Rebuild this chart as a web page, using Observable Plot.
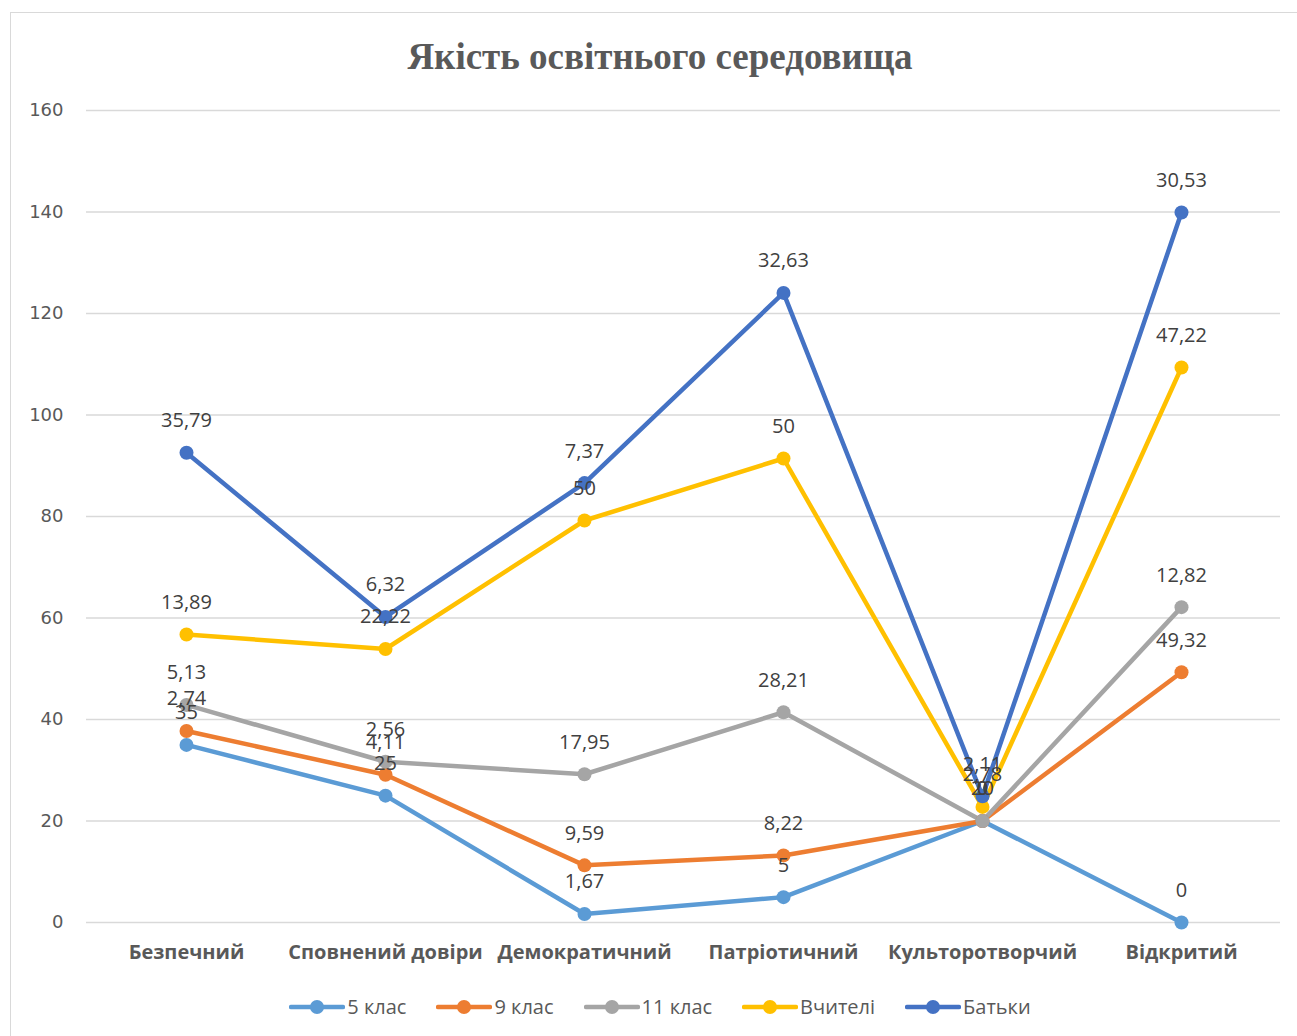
<!DOCTYPE html>
<html>
<head>
<meta charset="utf-8">
<script src="https://cdn.jsdelivr.net/npm/d3@7"></script>
<script src="https://cdn.jsdelivr.net/npm/@observablehq/plot@0.6"></script>
<style>
  html, body { margin: 0; padding: 0; background: #fff; }
  #frame { position: absolute; left: 10px; top: 12px; width: 1290px; height: 1030px; border: 1px solid #d9d9d9; box-sizing: border-box; background: #fff; }
  #title { position: absolute; left: 10px; width: 1300px; top: 35px; text-align: center; font-family: "Liberation Serif", "DejaVu Serif", serif; font-weight: bold; font-size: 37px; color: #595959; }
  #chart { position: absolute; left: 0; top: 90px; }
  #legend { position: absolute; left: 10px; width: 1300px; top: 993px; display: flex; justify-content: center; gap: 30px; font-family: "Open Sans", sans-serif; font-size: 20px; color: #595959; }
  .item { display: flex; align-items: center; }
  .item svg { margin-right: 2px; }
</style>
</head>
<body>
<div id="frame"></div>
<div id="title">Якість освітнього середовища</div>
<div id="chart"></div>
<div id="legend"></div>
<script>
const categories = ["Безпечний", "Сповнений довіри", "Демократичний", "Патріотичний", "Культоротворчий", "Відкритий"];
const seriesNames = ["5 клас", "9 клас", "11 клас", "Вчителі", "Батьки"];
const colors = ["#5B9BD5", "#ED7D31", "#A5A5A5", "#FFC000", "#4472C4"];
const klas5   = [35, 25, 1.67, 5, 20, 0];
const klas9   = [2.74, 4.11, 9.59, 8.22, 0, 49.32];
const klas11  = [5.13, 2.56, 17.95, 28.21, 0, 12.82];
const teachers = [13.89, 22.22, 50, 50, 2.78, 47.22];
const parents  = [35.79, 6.32, 7.37, 32.63, 2.11, 30.53];
const yTicks = [0, 20, 40, 60, 80, 100, 120, 140, 160];

const seriesValues = [klas5, klas9, klas11, teachers, parents];
const data = [];
seriesNames.forEach((s, i) => {
  categories.forEach((c, j) => data.push({series: s, category: c, value: seriesValues[i][j]}));
});
const fmt = v => String(v).replace(".", ",");

const chart = Plot.plot({
  width: 1297,
  height: 880,
  marginTop: 20,
  marginBottom: 48,
  marginLeft: 86,
  marginRight: 17,
  style: { background: "transparent", overflow: "visible" },
  x: { type: "point", domain: categories, padding: 0.5, label: null },
  y: { domain: [0, 160], label: null },
  color: { domain: seriesNames, range: colors },
  marks: [
    Plot.gridY(yTicks, { stroke: "#d9d9d9", strokeOpacity: 1, strokeWidth: 1.3 }),
    Plot.axisY(yTicks, { tickSize: 0, tickPadding: 23, fontSize: 18, fill: "#595959", fontFamily: "DejaVu Sans", label: null }),
    Plot.axisX({ tickSize: 0, tickPadding: 22, fontSize: 20, fontWeight: "bold", fill: "#595959", fontFamily: "Open Sans, sans-serif", label: null }),
    Plot.lineY(data, Plot.stackY2({ x: "category", y: "value", z: "series", stroke: "series", strokeWidth: 4.5, strokeLinecap: "round", strokeLinejoin: "round" })),
    Plot.dot(data, Plot.stackY2({ x: "category", y: "value", z: "series", fill: "series", r: 7, stroke: "none" })),
    Plot.text(data, Plot.stackY2({ x: "category", y: "value", z: "series", text: d => fmt(d.value), dy: -32, fontSize: 20, fill: "#404040", fontFamily: "Open Sans" }))
  ]
});
document.getElementById("chart").appendChild(chart);

const legend = document.getElementById("legend");
seriesNames.forEach((s, i) => {
  const item = document.createElement("div");
  item.className = "item";
  item.innerHTML = `<svg width="56" height="16"><line x1="2" y1="8" x2="54" y2="8" stroke="${colors[i]}" stroke-width="4.5" stroke-linecap="round"/><circle cx="28" cy="8" r="7" fill="${colors[i]}"/></svg><span>${s}</span>`;
  legend.appendChild(item);
});
</script>
</body>
</html>
